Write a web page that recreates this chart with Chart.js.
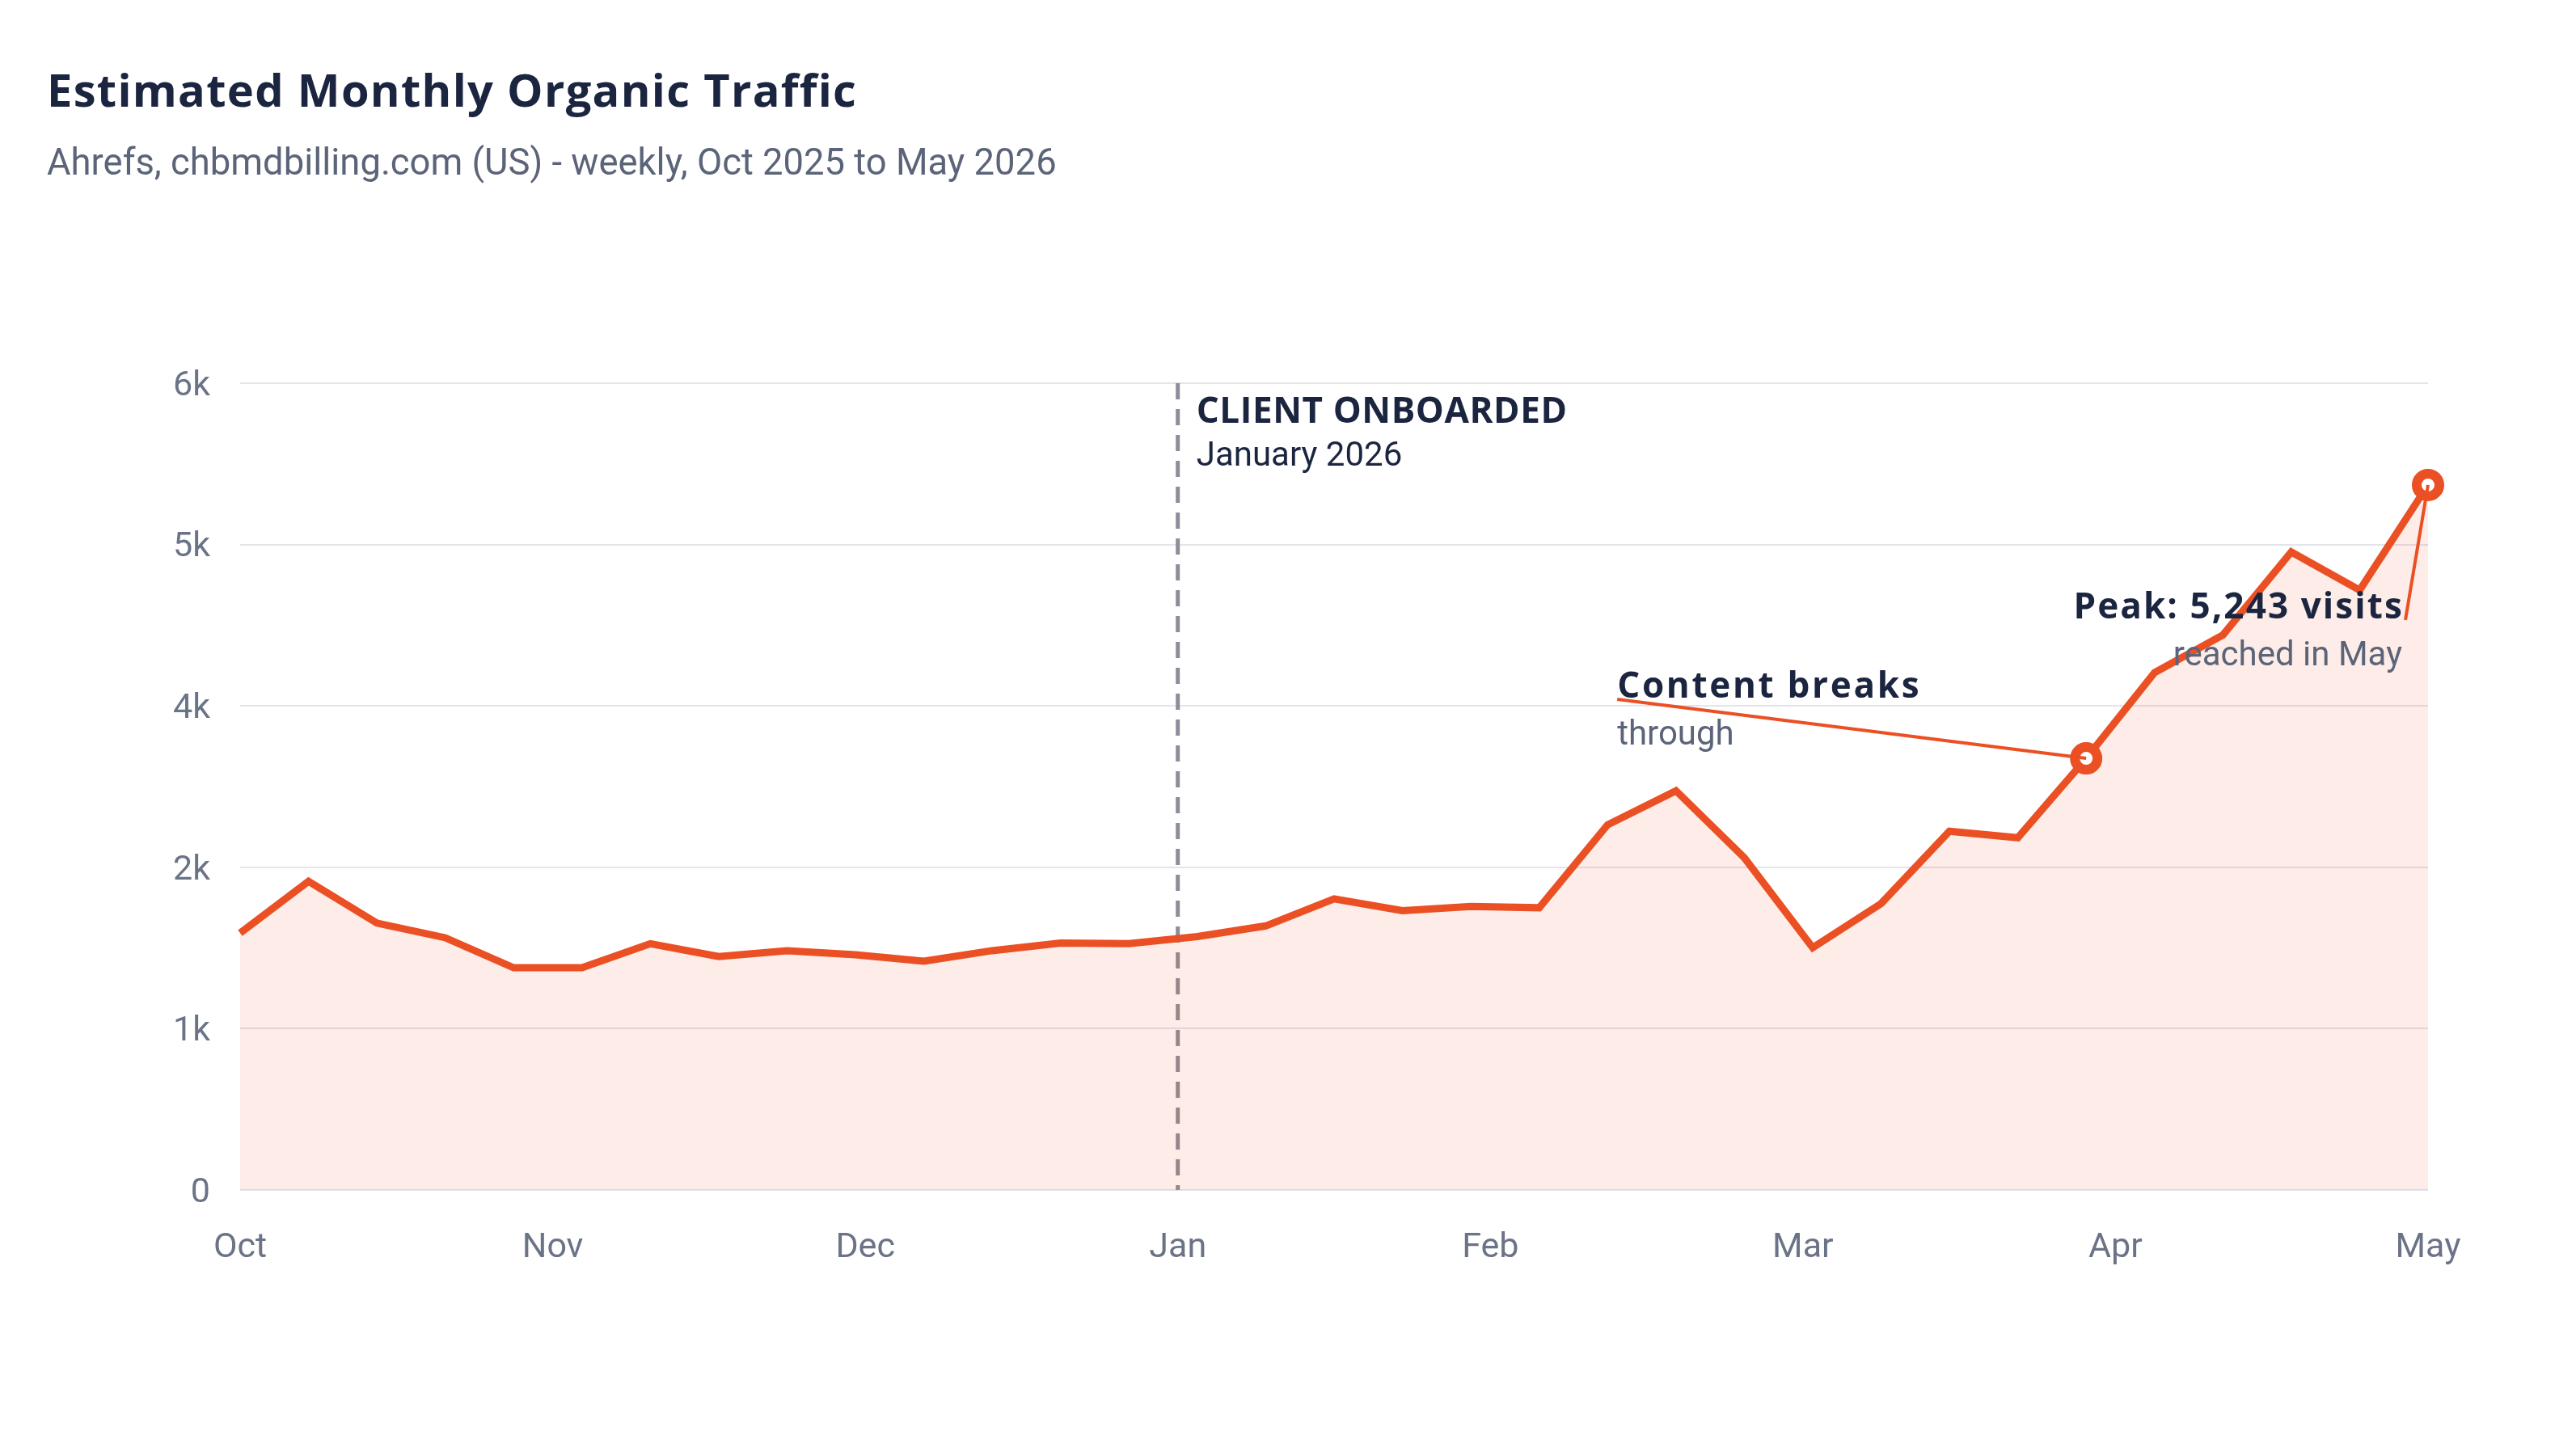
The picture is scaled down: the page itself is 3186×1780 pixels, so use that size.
<!DOCTYPE html>
<html>
<head>
<meta charset="utf-8">
<script src="https://cdn.jsdelivr.net/npm/chart.js@4.4.1/dist/chart.umd.min.js"></script>
<style>
  html, body { margin: 0; padding: 0; background: #ffffff; width: 3186px; height: 1780px; overflow: hidden; }
  #wrap { position: relative; width: 3186px; height: 1780px; }
  #chart { position: absolute; left: 0; top: 0; }
  .txt { position: absolute; white-space: nowrap; line-height: 1; }
  #title { left: 58px; top: 82px; font-family: 'Open Sans', sans-serif; font-weight: 700; font-size: 56px; letter-spacing: 1.3px; color: #1b2540; }
  #subtitle { left: 58px; top: 178px; font-family: Roboto, sans-serif; font-weight: 400; font-size: 45.4px; color: #5b6478; }
</style>
</head>
<body>
<div id="wrap">
  <canvas id="chart" width="3186" height="1780"></canvas>
  <div class="txt" id="title">Estimated Monthly Organic Traffic</div>
  <div class="txt" id="subtitle">Ahrefs, chbmdbilling.com (US) - weekly, Oct 2025 to May 2026</div>
</div>
<script>
// ---- data ----
const monthLabels = ['Oct', 'Nov', 'Dec', 'Jan', 'Feb', 'Mar', 'Apr', 'May'];
const weeklyVisits = [1911, 2296, 1985, 1876, 1653, 1653, 1832, 1736, 1780, 1749, 1701,
                      1780, 1837, 1832, 1885, 1964, 2165, 2077, 2108, 2099, 2716, 2969,
                      2471, 1802, 2130, 2668, 2620, 3210, 3848, 4128, 4745, 4461, 5243];
const yTickValues = [0, 1200, 2400, 3600, 4800, 6000];
const yTickLabels = ['0', '1k', '2k', '4k', '5k', '6k'];
const highlightWeeks = [27, 32];
const onboardMonth = 'Jan';

const lastWeek = weeklyVisits.length - 1;
const monthStep = lastWeek / (monthLabels.length - 1);

const ORANGE = '#eb5024';
const NAVY = '#1b2540';
const GRAY = '#5b6478';
const BOLD = "700 44px 'Open Sans', sans-serif";
const REG = "400 42px Roboto, sans-serif";

function boldText(ctx, text, x, y, spacing) {
  ctx.font = BOLD;
  ctx.fillStyle = NAVY;
  ctx.letterSpacing = spacing + 'px';
  ctx.fillText(text, x, y);
  ctx.letterSpacing = '0px';
}

const annotations = {
  id: 'annotations',
  beforeDatasetsDraw(chart) {
    const { ctx, chartArea, scales } = chart;
    const jx = scales.x.getPixelForValue(monthLabels.indexOf(onboardMonth) * monthStep);
    ctx.save();
    ctx.setLineDash([20, 12]);
    ctx.lineWidth = 5;
    ctx.strokeStyle = '#8b8d99';
    ctx.beginPath();
    ctx.moveTo(jx, chartArea.top);
    ctx.lineTo(jx, chartArea.bottom);
    ctx.stroke();
    ctx.restore();
  },
  afterDatasetsDraw(chart) {
    const { ctx, chartArea, scales } = chart;
    const x = scales.x, y = scales.y;
    const jx = x.getPixelForValue(monthLabels.indexOf(onboardMonth) * monthStep);
    const pA = { x: x.getPixelForValue(highlightWeeks[0]), y: y.getPixelForValue(weeklyVisits[highlightWeeks[0]]) };
    const pB = { x: x.getPixelForValue(highlightWeeks[1]), y: y.getPixelForValue(weeklyVisits[highlightWeeks[1]]) };
    ctx.save();
    // connectors
    ctx.strokeStyle = ORANGE;
    ctx.lineWidth = 4;
    ctx.beginPath();
    ctx.moveTo(pA.x - 580, pA.y - 73);
    ctx.lineTo(pA.x, pA.y);
    ctx.stroke();
    ctx.beginPath();
    ctx.moveTo(pB.x - 28, pB.y + 167);
    ctx.lineTo(pB.x, pB.y);
    ctx.stroke();

    ctx.textBaseline = 'alphabetic';
    // client onboarded
    ctx.textAlign = 'left';
    boldText(ctx, 'CLIENT ONBOARDED', jx + 23, chartArea.top + 49, 0.6);
    ctx.font = REG;
    ctx.fillStyle = NAVY;
    ctx.fillText('January 2026', jx + 23, chartArea.top + 102);
    // content breaks
    boldText(ctx, 'Content breaks', pA.x - 580, pA.y - 75, 2.7);
    ctx.font = REG;
    ctx.fillStyle = GRAY;
    ctx.fillText('through', pA.x - 580, pA.y - 17);
    // peak
    ctx.textAlign = 'right';
    boldText(ctx, 'Peak: 5,243 visits', pB.x - 30, pB.y + 165, 2.1);
    ctx.font = REG;
    ctx.fillStyle = GRAY;
    ctx.fillText('reached in May', pB.x - 32, pB.y + 223);
    ctx.restore();
  }
};

new Chart(document.getElementById('chart'), {
  type: 'line',
  data: {
    datasets: [{
      data: weeklyVisits.map((v, i) => ({ x: i, y: v })),
      borderColor: ORANGE,
      borderWidth: 9,
      backgroundColor: 'rgba(235, 80, 36, 0.11)',
      fill: 'origin',
      tension: 0,
      clip: false,
      pointRadius: c => highlightWeeks.includes(c.dataIndex) ? 14 : 0,
      pointHoverRadius: c => highlightWeeks.includes(c.dataIndex) ? 14 : 0,
      pointBorderWidth: 12,
      pointBackgroundColor: '#ffffff',
      pointBorderColor: ORANGE
    }]
  },
  options: {
    responsive: false,
    animation: false,
    events: [],
    layout: { padding: { top: 474, right: 183, bottom: 0, left: 0 } },
    plugins: { legend: { display: false }, tooltip: { enabled: false }, title: { display: false } },
    scales: {
      x: {
        type: 'linear',
        min: 0,
        max: lastWeek,
        grid: { display: false, drawTicks: false },
        border: { display: false },
        afterBuildTicks: s => { s.ticks = monthLabels.map((m, k) => ({ value: k * monthStep })); },
        afterFit: s => { s.height = 308; },
        ticks: {
          autoSkip: false,
          maxRotation: 0,
          padding: 46,
          color: '#6b7387',
          font: { family: 'Roboto', size: 43 },
          callback: (v, i) => monthLabels[i]
        }
      },
      y: {
        min: 0,
        max: 6000,
        grid: { color: '#e3e5eb', lineWidth: 2, drawTicks: false },
        border: { display: false },
        afterBuildTicks: s => { s.ticks = yTickValues.map(v => ({ value: v })); },
        afterFit: s => { s.width = 297; },
        ticks: {
          padding: 37,
          labelOffset: 4,
          color: '#6b7387',
          font: { family: 'Roboto', size: 43 },
          callback: (v, i) => yTickLabels[i]
        }
      }
    }
  },
  plugins: [annotations]
});
</script>
</body>
</html>
